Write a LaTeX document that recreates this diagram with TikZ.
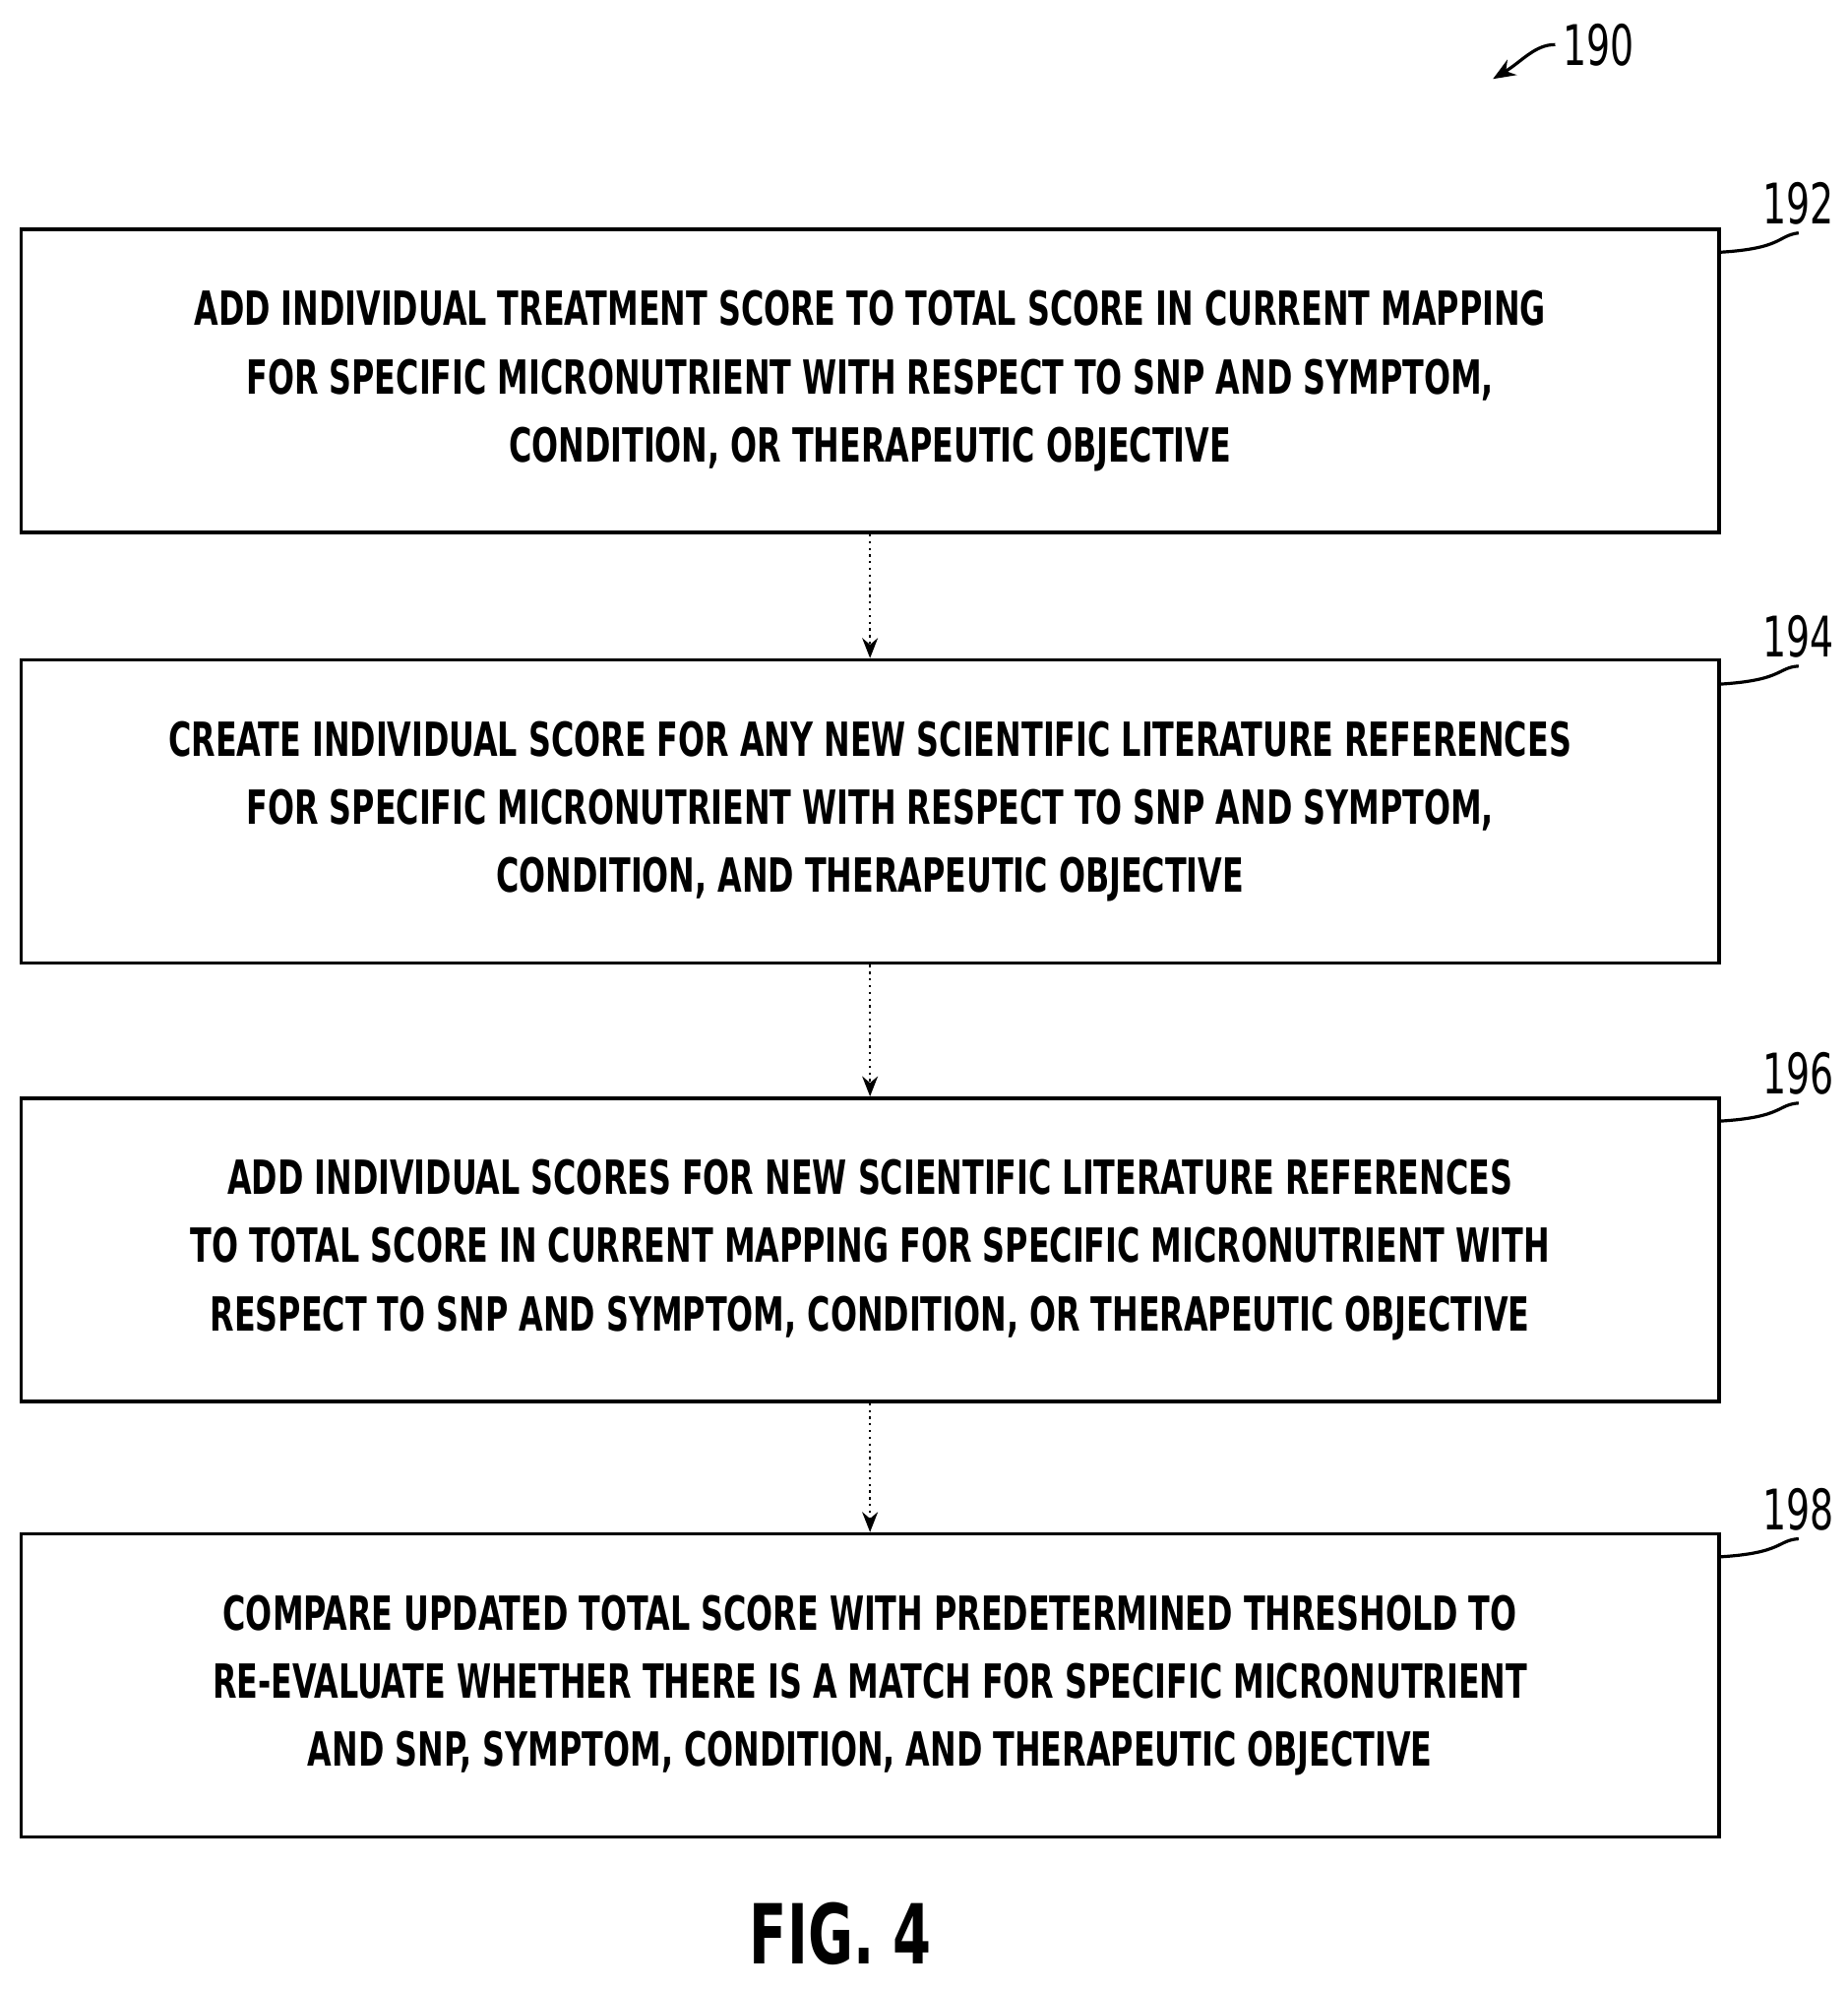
\documentclass[tikz,border=0pt]{standalone}
\usepackage{fontspec}
\setmainfont{DejaVu Sans Condensed}[FakeStretch=0.74]
\usetikzlibrary{arrows.meta}
\tikzset{
  stepbox/.style={draw, line width=1.6pt, minimum width=26.66cm, minimum height=4.76cm,
    align=center, font=\bfseries\fontsize{21}{30.5}\selectfont, inner sep=0pt},
  reflabel/.style={font=\fontsize{25}{30}\selectfont},
  flow/.style={-{Stealth[length=9pt,width=7pt]}, line width=1pt, dotted},
  leader/.style={line width=1.4pt}
}
\begin{document}
\begin{tikzpicture}[x=0.02cm,y=0.02cm]
  \useasboundingbox (0,0) rectangle (1450,-1562);
  \node[stepbox] (b192) at (683,-299) {ADD INDIVIDUAL TREATMENT SCORE TO TOTAL SCORE IN CURRENT MAPPING\\FOR SPECIFIC MICRONUTRIENT WITH RESPECT TO SNP AND SYMPTOM,\\CONDITION, OR THERAPEUTIC OBJECTIVE};
  \node[stepbox] (b194) at (683,-637) {CREATE INDIVIDUAL SCORE FOR ANY NEW SCIENTIFIC LITERATURE REFERENCES\\FOR SPECIFIC MICRONUTRIENT WITH RESPECT TO SNP AND SYMPTOM,\\CONDITION, AND THERAPEUTIC OBJECTIVE};
  \node[stepbox] (b196) at (683,-981) {ADD INDIVIDUAL SCORES FOR NEW SCIENTIFIC LITERATURE REFERENCES\\TO TOTAL SCORE IN CURRENT MAPPING FOR SPECIFIC MICRONUTRIENT WITH\\RESPECT TO SNP AND SYMPTOM, CONDITION, OR THERAPEUTIC OBJECTIVE};
  \node[stepbox] (b198) at (683,-1323) {COMPARE UPDATED TOTAL SCORE WITH PREDETERMINED THRESHOLD TO\\RE-EVALUATE WHETHER THERE IS A MATCH FOR SPECIFIC MICRONUTRIENT\\AND SNP, SYMPTOM, CONDITION, AND THERAPEUTIC OBJECTIVE};

  \draw[flow] (b192) -- (b194);
  \draw[flow] (b194) -- (b196);
  \draw[flow] (b196) -- (b198);

  \node[reflabel] (l192) at (1412,-160) {192};
  \node[reflabel] (l194) at (1412,-500) {194};
  \node[reflabel] (l196) at (1412,-843) {196};
  \node[reflabel] (l198) at (1412,-1185) {198};
  \draw[leader] (1350,-198) .. controls (1400,-195) and (1395,-185) .. (l192.south);
  \draw[leader] (1350,-537) .. controls (1400,-534) and (1395,-524) .. (l194.south);
  \draw[leader] (1350,-880) .. controls (1400,-877) and (1395,-867) .. (l196.south);
  \draw[leader] (1350,-1222) .. controls (1400,-1219) and (1395,-1209) .. (l198.south);

  \node[reflabel] (l190) at (1255,-35) {190};
  \draw[leader, -{Stealth[length=10pt,width=8pt]}] (l190.west) .. controls (1205,-35) and (1195,-48) .. (1172,-62);

  \node[font=\bfseries\fontsize{37}{40}\selectfont] (fig) at (660,-1518) {FIG. 4};
\end{tikzpicture}
\end{document}
